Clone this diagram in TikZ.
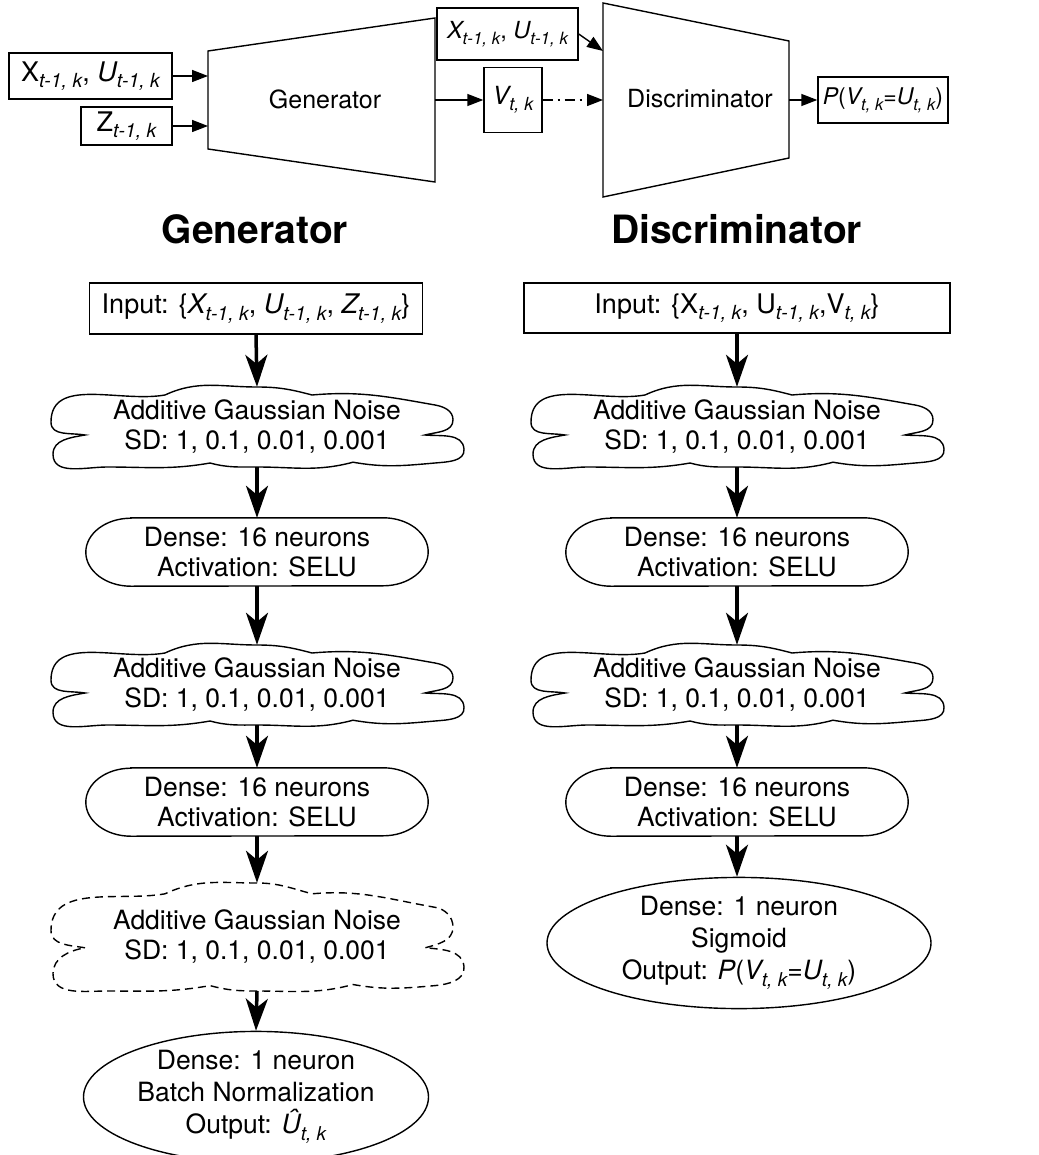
\documentclass[tikz,border=0pt]{standalone}
\usepackage{fontspec}
\setmainfont{TeX Gyre Heros}
\usepackage{graphicx}
\usetikzlibrary{arrows.meta,shapes.geometric,calc}

\newcommand\sbs[1]{\raisebox{-0.25em}{\scalebox{0.72}{\itshape #1}}}

\newcommand{\drawcloud}[3]{%
\draw[line width=1.4pt,#2,shift={(#1)}]
 (-172,-0.2*#3)
 to[out=170,in=-90] (-206,0.12*#3)
 to[out=90,in=190] (-92,0.8*#3)
 to[out=25,in=180] (0,#3)
 to[out=0,in=165] (55,0.8*#3)
 to[out=5,in=170] (178,0.55*#3)
 to[out=-10,in=90] (196,0.18*#3)
 to[out=-90,in=15] (168,-0.2*#3)
 to[out=-5,in=95] (207,-0.55*#3)
 to[out=-85,in=5] (178,-0.9*#3)
 to[out=185,in=-10] (96,-0.88*#3)
 to[out=195,in=0] (0,-#3)
 to[out=180,in=-15] (-47,-0.9*#3)
 to[out=190,in=0] (-150,-#3)
 to[out=180,in=-90] (-204,-0.68*#3)
 to[out=90,in=-170] (-172,-0.2*#3) -- cycle;
}

\newcommand{\drawstadium}[1]{%
\draw[line width=1.4pt] ([xshift=45pt]#1.north west) -- ([xshift=-45pt]#1.north east)
 arc[start angle=90,end angle=-90,x radius=45pt,y radius=34pt]
 -- ([xshift=45pt]#1.south west)
 arc[start angle=270,end angle=90,x radius=45pt,y radius=34pt] -- cycle;
}

\tikzset{
 every node/.style={font=\fontsize{26.5}{30}\selectfont, inner sep=0pt, align=center},
 box/.style={draw, line width=1.4pt},
 trap/.style={line width=1.4pt},
 thinarrow/.style={line width=1.4pt, -{Triangle[length=16pt,width=12pt]}},
 bigarrow/.style={line width=3.5pt, -{Stealth[length=32pt,width=22pt,inset=9pt]}},
 cloudtext/.style={minimum width=412pt},
 stadtext/.style={minimum width=342pt, minimum height=68pt},
 heading/.style={font=\fontsize{39}{45}\selectfont\bfseries, anchor=base},
 topfont/.style={font=\fontsize{25}{30}\selectfont},
 bigin/.style={font=\fontsize{27}{30}\selectfont},
 ell/.style={draw, ellipse, line width=1.4pt, font=\fontsize{26.5}{32}\selectfont},
}

\begin{document}
\begin{tikzpicture}[x=1pt,y=1pt]
\useasboundingbox (0,0) rectangle (1038,-1155);

% ---------- top section ----------
\node[box, bigin, minimum width=163pt, minimum height=46pt] (inXU) at (90.5,-76) {X\sbs{t-1, k}, {\itshape U}\sbs{t-1, k}};
\node[box, bigin, minimum width=91pt, minimum height=38pt] (inZ) at (126.5,-126) {Z\sbs{t-1, k}};
\draw[trap] (208,-51) -- (435,-18) -- (435,-182) -- (208,-149) -- cycle;
\node[topfont] (gen) at (325,-99) {Generator};
\coordinate (genL1) at (208,-76);
\coordinate (genL2) at (208,-126);
\coordinate (genR) at (435,-100);
\draw[thinarrow] (inXU.east) -- (genL1);
\draw[thinarrow] (inZ.east) -- (genL2);

\node[box, topfont, minimum width=58pt, minimum height=65pt] (V) at (513,-100) {{\itshape V}\sbs{t, k}};
\draw[thinarrow] (genR) -- (V.west);

\node[box, font=\fontsize{23.5}{30}\selectfont, minimum width=141pt, minimum height=52pt] (tXU) at (507.5,-34) {{\itshape X}\sbs{t-1, k}, {\itshape U}\sbs{t-1, k}};
\draw[trap] (603,-3) -- (789,-41) -- (789,-158) -- (603,-197) -- cycle;
\node[topfont] (disc) at (700,-99) {Discriminator};
\coordinate (discL) at (603,-100);
\coordinate (discLt) at (603,-51);
\coordinate (discR) at (789,-100);
\draw[thinarrow, dash pattern=on 10pt off 5pt on 2pt off 5pt] (V.east) -- (discL);
\draw[thinarrow] (tXU.east) -- (discLt);

\node[box, font=\fontsize{23}{30}\selectfont, minimum width=130pt, minimum height=46pt] (out) at (883,-100) {{\itshape P}({\itshape V}\sbs{t, k}={\itshape U}\sbs{t, k})};
\draw[thinarrow] (discR) -- (out.west);

% ---------- headings ----------
\node[heading] (hg) at (255,-244) {Generator};
\node[heading] (hd) at (736.5,-244) {Discriminator};

% ---------- generator column ----------
\node[box, bigin, minimum width=333pt, minimum height=51pt] (gin) at (256,-308.5) {Input: \{{\itshape X}\sbs{t-1, k}, {\itshape U}\sbs{t-1, k}, {\itshape Z}\sbs{t-1, k}\}};
\node[cloudtext, minimum height=80pt] (g1) at (257,-427) {Additive Gaussian Noise\\SD: 1, 0.1, 0.01, 0.001};
\drawcloud{g1}{solid}{40}
\node[stadtext] (gd1) at (257,-552) {Dense: 16 neurons\\Activation: SELU};
\drawstadium{gd1}
\node[cloudtext, minimum height=80pt] (g2) at (257,-685) {Additive Gaussian Noise\\SD: 1, 0.1, 0.01, 0.001};
\drawcloud{g2}{solid}{40}
\node[stadtext] (gd2) at (257,-802) {Dense: 16 neurons\\Activation: SELU};
\drawstadium{gd2}
\node[cloudtext, minimum height=108pt] (g3) at (257,-937) {Additive Gaussian Noise\\SD: 1, 0.1, 0.01, 0.001};
\drawcloud{g3}{dash pattern=on 8pt off 5pt}{54}
\node[ell, minimum width=345pt, minimum height=114pt] (gout) at (256,-1097) {Dense: 1 neuron\\Batch Normalization\\Output: {\itshape Û}\sbs{t, k}};

\draw[bigarrow] (gin.south) -- (g1.north);
\draw[bigarrow] (g1.south) -- (gd1.north);
\draw[bigarrow] (gd1.south) -- (g2.north);
\draw[bigarrow] (g2.south) -- (gd2.north);
\draw[bigarrow] (gd2.south) -- (g3.north);
\draw[bigarrow] (g3.south) -- (gout.north);

% ---------- discriminator column ----------
\node[box, bigin, minimum width=426pt, minimum height=50pt] (din) at (737,-308) {Input: \{X\sbs{t-1, k}, U\sbs{t-1, k},V\sbs{t, k}\}};
\node[cloudtext, minimum height=80pt] (d1) at (737,-427) {Additive Gaussian Noise\\SD: 1, 0.1, 0.01, 0.001};
\drawcloud{d1}{solid}{40}
\node[stadtext] (dd1) at (737,-552) {Dense: 16 neurons\\Activation: SELU};
\drawstadium{dd1}
\node[cloudtext, minimum height=80pt] (d2) at (737,-685) {Additive Gaussian Noise\\SD: 1, 0.1, 0.01, 0.001};
\drawcloud{d2}{solid}{40}
\node[stadtext] (dd2) at (737,-802) {Dense: 16 neurons\\Activation: SELU};
\drawstadium{dd2}
\node[ell, minimum width=384pt, minimum height=126pt] (dout) at (739,-943) {Dense: 1 neuron\\Sigmoid\\Output: {\itshape P}({\itshape V}\sbs{t, k}={\itshape U}\sbs{t, k})};

\draw[bigarrow] (din.south) -- (d1.north);
\draw[bigarrow] (d1.south) -- (dd1.north);
\draw[bigarrow] (dd1.south) -- (d2.north);
\draw[bigarrow] (d2.south) -- (dd2.north);
\draw[bigarrow] (dd2.south) -- (dout.north -| dd2.south);
\end{tikzpicture}
\end{document}
